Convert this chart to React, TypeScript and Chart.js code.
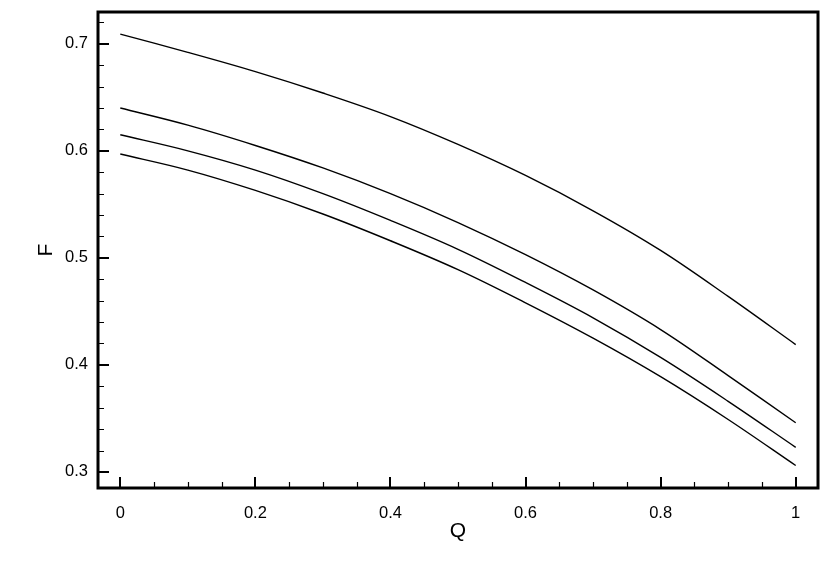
import { useEffect, useRef } from "react";
import { Chart, registerables } from "chart.js";

Chart.register(...registerables);

// ---- data ----
const Q = [0, 0.1, 0.2, 0.3, 0.4, 0.5, 0.6, 0.7, 0.8, 0.9, 1.0];
const F_A = [0.709, 0.692, 0.674, 0.654, 0.632, 0.606, 0.577, 0.544, 0.507, 0.464, 0.419];
const F_B = [0.640, 0.624, 0.605, 0.584, 0.560, 0.533, 0.503, 0.470, 0.433, 0.390, 0.346];
const F_C = [0.615, 0.600, 0.582, 0.560, 0.535, 0.508, 0.477, 0.444, 0.407, 0.366, 0.323];
const F_D = [0.597, 0.582, 0.563, 0.541, 0.516, 0.489, 0.458, 0.425, 0.389, 0.349, 0.306];

const X_MAJOR = [0, 0.2, 0.4, 0.6, 0.8, 1];
const X_MINOR = [0.05, 0.1, 0.15, 0.25, 0.3, 0.35, 0.45, 0.5, 0.55, 0.65, 0.7, 0.75, 0.85, 0.9, 0.95];
const Y_MAJOR = [0.3, 0.4, 0.5, 0.6, 0.7];
const Y_MINOR = [0.32, 0.34, 0.36, 0.38, 0.42, 0.44, 0.46, 0.48, 0.52, 0.54, 0.56, 0.58, 0.62, 0.64, 0.66, 0.68, 0.72];

const X_TITLE = "Q";
const Y_TITLE = "F";

const FONT = "'Liberation Sans', Arial, Helvetica, sans-serif";

const framePlugin = {
  id: "frameTicks",
  afterDraw(chart: any) {
    const { ctx, chartArea } = chart;
    const { left, top, right, bottom } = chartArea;
    const xs = chart.scales.x;
    const ys = chart.scales.y;
    ctx.save();
    ctx.strokeStyle = "#000";
    ctx.lineCap = "butt";
    // minor ticks
    ctx.lineWidth = 1.2;
    ctx.beginPath();
    for (const v of X_MINOR) {
      const px = Math.round(xs.getPixelForValue(v)) + 0.5;
      ctx.moveTo(px, bottom);
      ctx.lineTo(px, bottom - 6);
    }
    for (const v of Y_MINOR) {
      const py = Math.round(ys.getPixelForValue(v)) + 0.5;
      ctx.moveTo(left, py);
      ctx.lineTo(left + 6, py);
    }
    ctx.stroke();
    // major ticks
    ctx.lineWidth = 2;
    ctx.beginPath();
    for (const v of X_MAJOR) {
      const px = Math.round(xs.getPixelForValue(v));
      ctx.moveTo(px, bottom);
      ctx.lineTo(px, bottom - 11);
    }
    for (const v of Y_MAJOR) {
      const py = Math.round(ys.getPixelForValue(v));
      ctx.moveTo(left, py);
      ctx.lineTo(left + 11, py);
    }
    ctx.stroke();
    // frame
    ctx.lineWidth = 3;
    ctx.strokeRect(left, top, right - left, bottom - top);
    ctx.restore();
  },
};

export default function App() {
  const canvasRef = useRef<HTMLCanvasElement | null>(null);

  useEffect(() => {
    const canvas = canvasRef.current;
    if (!canvas) return;
    const mk = (data: number[]) => ({
      data: Q.map((q, i) => ({ x: q, y: data[i] })),
      borderColor: "#000",
      borderWidth: 1.4,
      pointRadius: 0,
      fill: false,
      tension: 0.35,
    });
    const chart = new Chart(canvas, {
      type: "line",
      data: {
        datasets: [mk(F_A), mk(F_B), mk(F_C), mk(F_D)],
      },
      options: {
        animation: false,
        responsive: false,
        maintainAspectRatio: false,
        devicePixelRatio: 1,
        layout: { padding: { left: 0, top: 12, right: 12, bottom: 0 } },
        plugins: { legend: { display: false }, tooltip: { enabled: false } },
        scales: {
          x: {
            type: "linear",
            min: -0.033,
            max: 1.033,
            grid: { display: false, drawTicks: false },
            border: { display: false },
            afterBuildTicks: (s: any) => {
              s.ticks = X_MAJOR.map((v) => ({ value: v }));
            },
            afterFit: (s: any) => {
              s.height = 98;
              s.paddingLeft = 0;
              s.paddingRight = 0;
            },
            ticks: {
              color: "#000",
              padding: 16,
              maxRotation: 0,
              font: { family: FONT, size: 16.5 },
              callback: (v: any) => String(Math.round(Number(v) * 10) / 10),
            },
            title: {
              display: true,
              text: X_TITLE,
              color: "#000",
              font: { family: FONT, size: 21 },
              padding: { top: 42, bottom: 42 },
            },
          },
          y: {
            type: "linear",
            min: 0.285,
            max: 0.7297,
            grid: { display: false, drawTicks: false },
            border: { display: false },
            afterBuildTicks: (s: any) => {
              s.ticks = Y_MAJOR.map((v) => ({ value: v }));
            },
            afterFit: (s: any) => {
              s.width = 98;
              s.paddingTop = 0;
              s.paddingBottom = 0;
            },
            ticks: {
              color: "#000",
              padding: 10,
              font: { family: FONT, size: 16.5 },
              callback: (v: any) => (Math.round(Number(v) * 10) / 10).toFixed(1),
            },
            title: {
              display: true,
              text: Y_TITLE,
              color: "#000",
              font: { family: FONT, size: 21 },
              padding: { top: 34, bottom: 34 },
            },
          },
        },
      },
      plugins: [framePlugin],
    });
    return () => chart.destroy();
  }, []);

  return (
    <div style={{ position: "fixed", left: 0, top: 0, width: 830, height: 586, background: "#fff" }}>
      <canvas ref={canvasRef} width={830} height={586} style={{ width: 830, height: 586, display: "block" }} />
    </div>
  );
}
